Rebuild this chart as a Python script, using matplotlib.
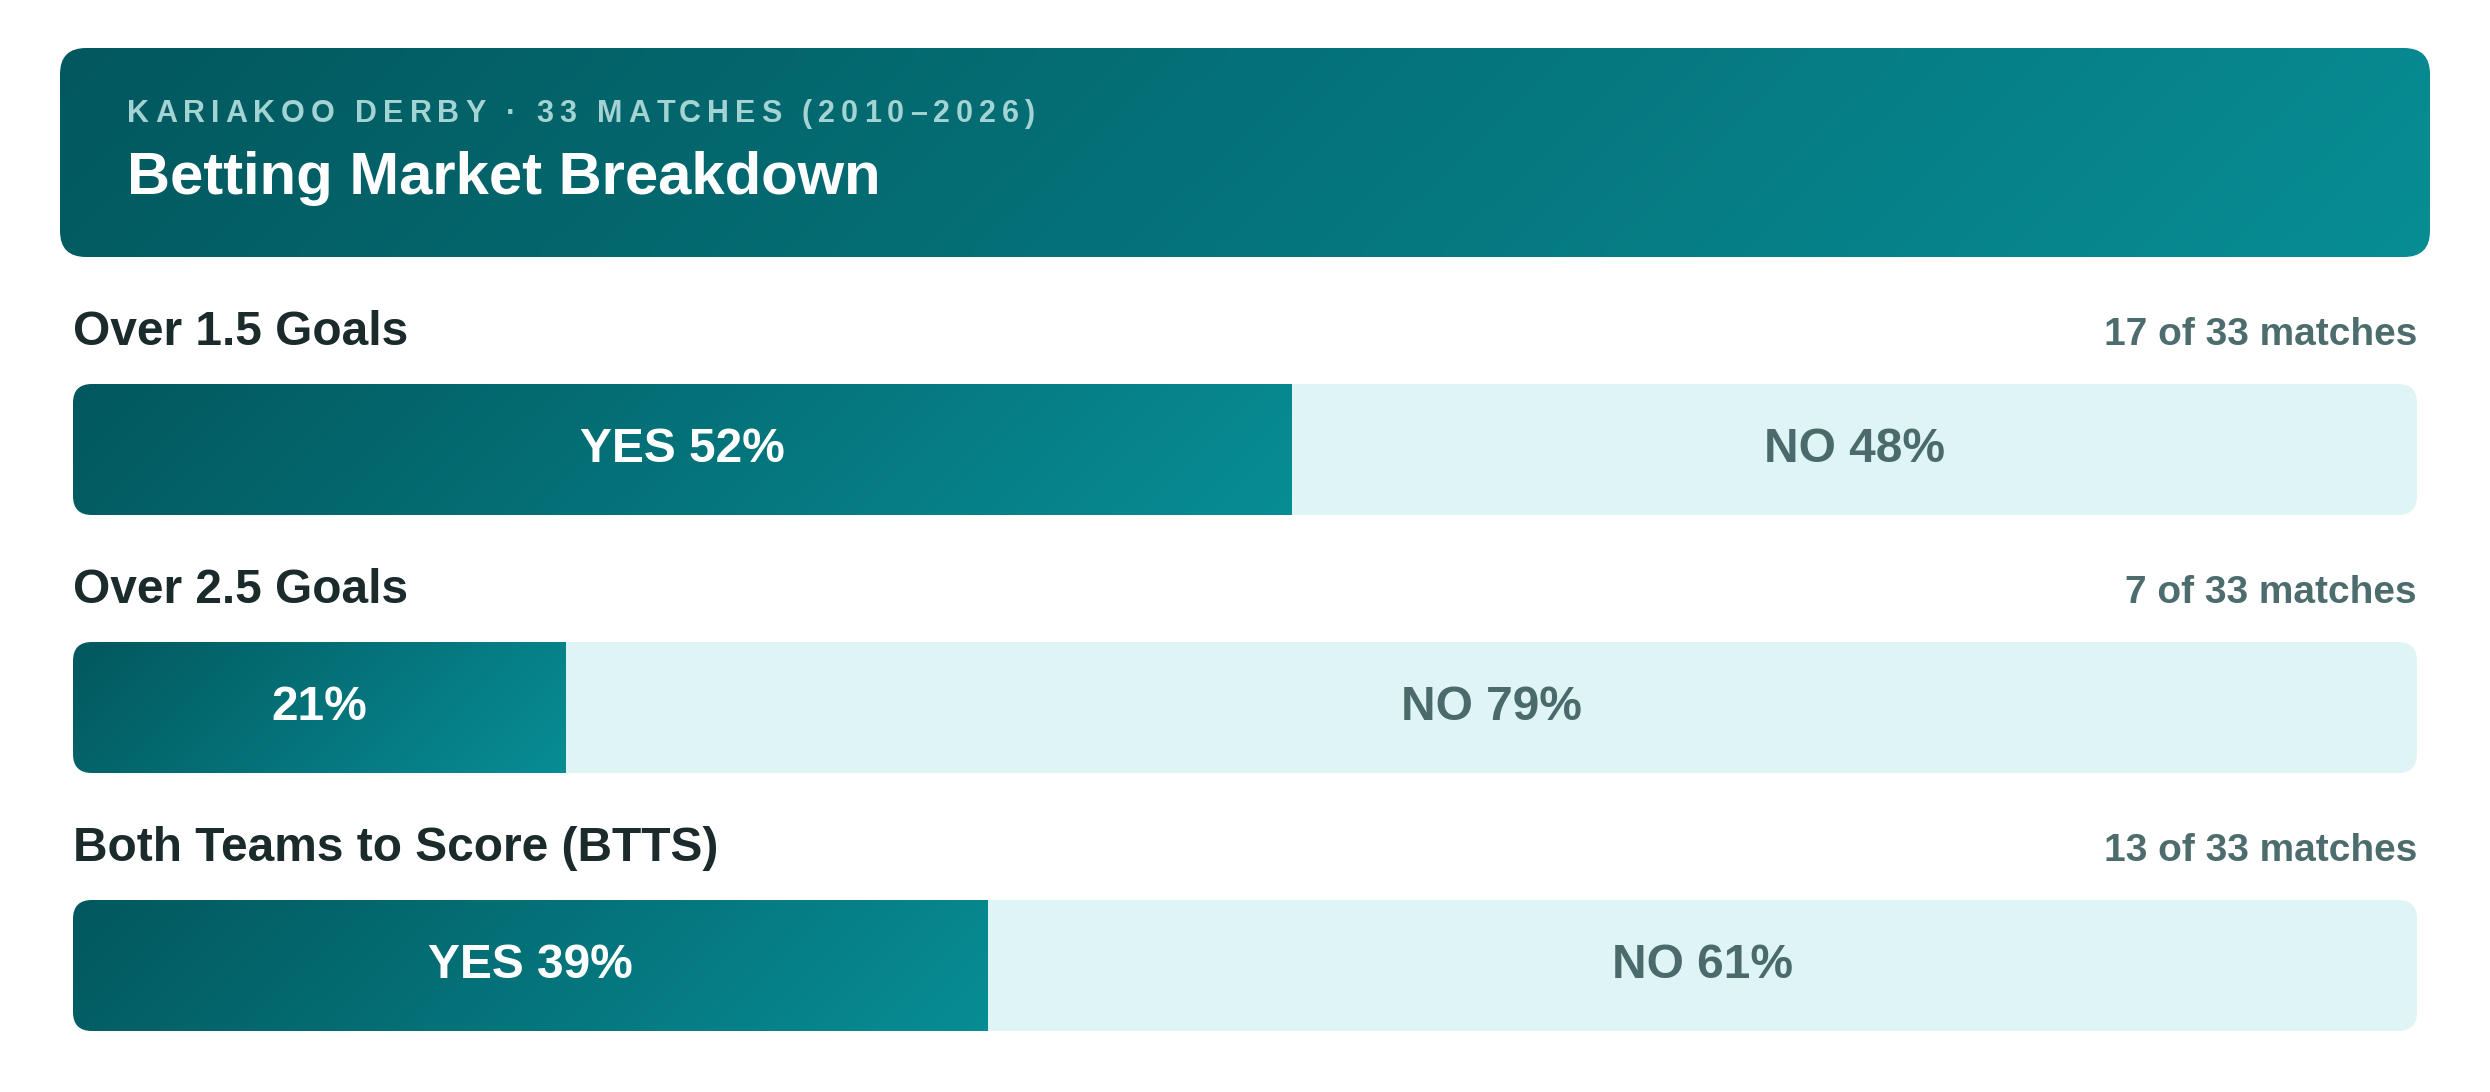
import numpy as np
import matplotlib.pyplot as plt
from matplotlib.patches import FancyBboxPatch
from matplotlib.colors import LinearSegmentedColormap
from matplotlib import transforms

plt.rcParams['font.family'] = ['Liberation Sans', 'DejaVu Sans']

# data
markets = ['Over 1.5 Goals', 'Over 2.5 Goals', 'Both Teams to Score (BTTS)']
yes_counts = [17, 7, 13]
total_matches = 33
yes_pct = [52, 21, 39]
no_pct = [48, 79, 61]

kicker = 'KARIAKOO DERBY · 33 MATCHES (2010–2026)'
title = 'Betting Market Breakdown'

W, H = 2490, 1092
teal = LinearSegmentedColormap.from_list('teal', ['#02585e', '#088d95'])


def gradient(w_px, h_px, n=256):
    """135deg css-like gradient: top-left dark -> bottom-right light"""
    x = np.linspace(0, w_px, n)
    y = np.linspace(0, h_px, max(16, int(n * h_px / max(w_px, 1))))
    X, Y = np.meshgrid(x, y)
    return (X + Y) / (w_px + h_px)


fig = plt.figure(figsize=(W / 100, H / 100), dpi=100)
bg = fig.add_axes([0, 0, 1, 1])
bg.axis('off')

# header card
hx, hy, hw, hh = 60, 48, 2370, 209
card = FancyBboxPatch((hx, hy), hw, hh, boxstyle='round,pad=0,rounding_size=26',
                      lw=0, fc='none')
bg.add_patch(card)
im = bg.imshow(gradient(hw, hh), cmap=teal, vmin=0, vmax=1, zorder=2,
               extent=(hx, hx + hw, hy + hh, hy), aspect='auto', interpolation='bicubic')
im.set_clip_path(card)
bg.set_xlim(0, W)
bg.set_ylim(H, 0)

# letter-spaced kicker, one char at a time
r = fig.canvas.get_renderer()
kw = dict(fontsize=22, fontweight='bold', color='#a3d3d3', va='baseline', zorder=3)


def text_width(s):
    t = bg.text(0, 0, s + '|', **kw)
    w = t.get_window_extent(r).width
    t.remove()
    return w


bar_w = text_width('')
for k, ch in enumerate(kicker):
    x = 127 + (text_width(kicker[:k]) - bar_w) + k * 6
    bg.text(x, 122, ch, **kw)

bg.text(127, 194, title, fontsize=43, fontweight='bold', color='white',
        va='baseline', zorder=3)

# bars
left, right, top, bottom = 73, 2417, 384, 1031
bar_px = 131
ax = fig.add_axes([left / W, 1 - bottom / H, (right - left) / W, (bottom - top) / H])
ax.axis('off')

n = len(markets)
pitch_px = (bottom - top - bar_px) / (n - 1)
bh = bar_px / pitch_px
pxx = (right - left) / 100
rx = 19 / pxx
asp = pxx / pitch_px

lab_tr = transforms.blended_transform_factory(ax.transAxes, ax.transData) + \
    transforms.Affine2D().translate(0, 39)

for i, (name, c, p, q) in enumerate(zip(markets, yes_counts, yes_pct, no_pct)):
    track = FancyBboxPatch((0, i - bh / 2), 100, bh,
                           boxstyle=f'round,pad=0,rounding_size={rx}',
                           mutation_aspect=asp, fc='#dff4f4', lw=0, zorder=1)
    ax.add_patch(track)
    fill = ax.imshow(gradient(p * pxx, bar_px), cmap=teal, vmin=0, vmax=1, zorder=2,
                     extent=(0, p, i + bh / 2, i - bh / 2), aspect='auto',
                     interpolation='bicubic')
    fill.set_clip_path(track)

    yes_txt = f'YES {p}%' if p >= 30 else f'{p}%'
    ax.text(p / 2, i, yes_txt, ha='center', va='center', color='white',
            fontsize=34.5, fontweight='bold', zorder=3)
    ax.text(p + q / 2, i, f'NO {q}%', ha='center', va='center', color='#4b6a6b',
            fontsize=34.5, fontweight='bold', zorder=3)

    ax.text(0, i - bh / 2, name, transform=lab_tr, ha='left', va='baseline',
            fontsize=34.5, fontweight='bold', color='#1b2a2b', clip_on=False)
    ax.text(1, i - bh / 2, f'{c} of {total_matches} matches', transform=lab_tr,
            ha='right', va='baseline', fontsize=28, fontweight='bold',
            color='#4d6c6d', clip_on=False)

ax.set_xlim(0, 100)
ax.set_ylim(n - 1 + bh / 2, -bh / 2)

fig.savefig('out.png', dpi=100, facecolor='white')
